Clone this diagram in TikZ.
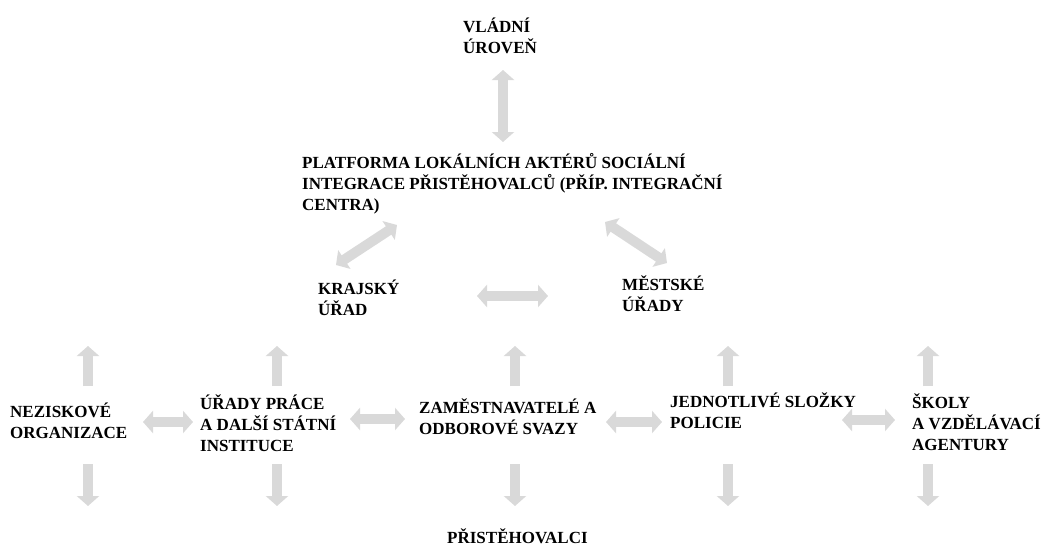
\documentclass[tikz,border=0pt]{standalone}
\usepackage{fontspec}
\setmainfont{Liberation Serif}
\usetikzlibrary{arrows.meta}
\definecolor{arrgray}{RGB}{217,217,217}

\begin{document}
\begin{tikzpicture}[x=1pt,y=-1pt,
  txt/.style={anchor=base west, align=left, inner sep=0pt, font=\fontsize{17}{21}\selectfont\bfseries},
  arr/.style={draw=arrgray, line width=10pt, -{Triangle[width=22pt,length=10pt]}},
  darr/.style={draw=arrgray, line width=10pt, {Triangle[width=22pt,length=10pt]}-{Triangle[width=22pt,length=10pt]}}]
\useasboundingbox (0,0) rectangle (1045,546);

% texty (y = uctari posledniho radku)
\node[txt] (vu) at (463,53) {VLÁDNÍ\\ÚROVEŇ};
\node[txt] (pl) at (302,210) {PLATFORMA LOKÁLNÍCH AKTÉRŮ SOCIÁLNÍ\\INTEGRACE PŘISTĚHOVALCŮ (PŘÍP. INTEGRAČNÍ\\CENTRA)};
\node[txt] (kr) at (318,315) {KRAJSKÝ\\ÚŘAD};
\node[txt] (mu) at (622,311) {MĚSTSKÉ\\ÚŘADY};
\node[txt] (no) at (10,438) {NEZISKOVÉ\\ORGANIZACE};
\node[txt] (up) at (200,451) {ÚŘADY PRÁCE\\A DALŠÍ STÁTNÍ\\INSTITUCE};
\node[txt] (zo) at (419,434) {ZAMĚSTNAVATELÉ A\\ODBOROVÉ SVAZY};
\node[txt] (js) at (670,428) {JEDNOTLIVÉ SLOŽKY\\POLICIE};
\node[txt] (sk) at (912,450) {ŠKOLY\\A VZDĚLÁVACÍ\\AGENTURY};
\node[txt] (pr) at (447,543) {PŘISTĚHOVALCI};

% konce sipek
\coordinate (vu-pl1) at (503,70);
\coordinate (vu-pl2) at (503,142);
\coordinate (kr-pl1) at (336,265);
\coordinate (kr-pl2) at (397,225);
\coordinate (pl-mu1) at (605,222);
\coordinate (pl-mu2) at (667,263);
\coordinate (kr-mu1) at (477,296);
\coordinate (kr-mu2) at (548,296);
\coordinate (no-up1) at (143,422);
\coordinate (no-up2) at (193,422);
\coordinate (up-zo1) at (350,419);
\coordinate (up-zo2) at (405,419);
\coordinate (zo-js1) at (606,422);
\coordinate (zo-js2) at (662,422);
\coordinate (js-sk1) at (842,420);
\coordinate (js-sk2) at (895,420);

\draw[darr] (vu-pl1) -- (vu-pl2);
\draw[darr] (kr-pl1) -- (kr-pl2);
\draw[darr] (pl-mu1) -- (pl-mu2);
\draw[darr] (kr-mu1) -- (kr-mu2);
\draw[darr] (no-up1) -- (no-up2);
\draw[darr] (up-zo1) -- (up-zo2);
\draw[darr] (zo-js1) -- (zo-js2);
\draw[darr] (js-sk1) -- (js-sk2);

\foreach \n/\x in {no/88,up/277,zo/515,js/728,sk/928}{
  \coordinate (\n-n) at (\x,386);
  \coordinate (\n-u) at (\x,346);
  \coordinate (\n-s) at (\x,464);
  \coordinate (\n-d) at (\x,506);
  \draw[arr] (\n-n) -- (\n-u);
  \draw[arr] (\n-s) -- (\n-d);
}
\end{tikzpicture}
\end{document}
